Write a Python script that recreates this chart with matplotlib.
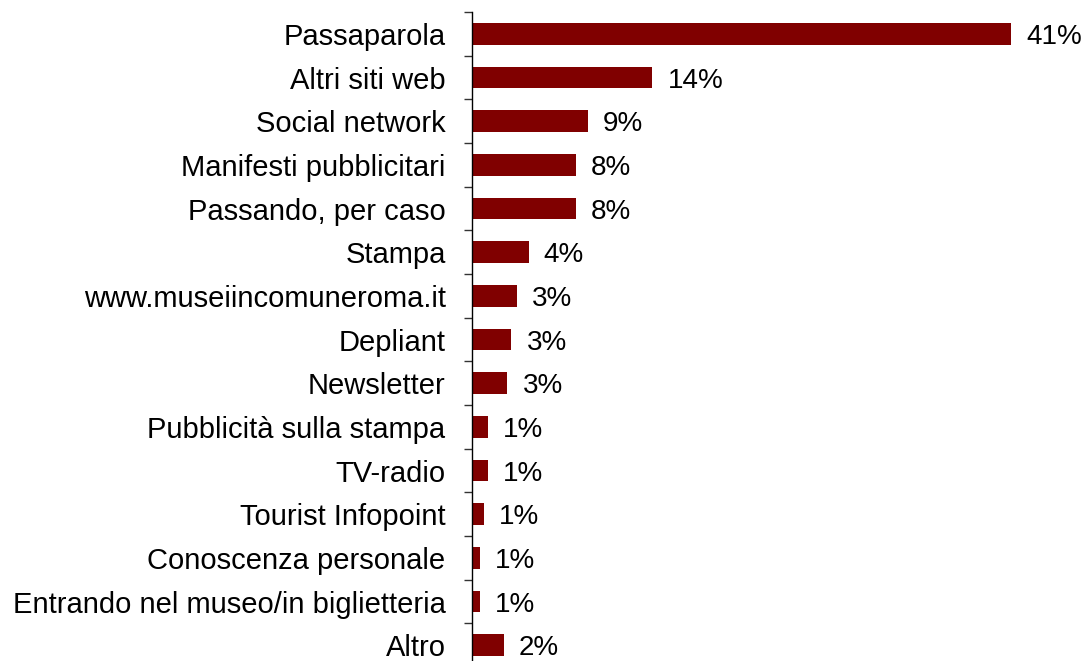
import matplotlib.pyplot as plt
import numpy as np

# Canali di conoscenza (%)
canali = [
    "Passaparola",
    "Altri siti web",
    "Social network",
    "Manifesti pubblicitari",
    "Passando, per caso",
    "Stampa",
    "www.museiincomuneroma.it",
    "Depliant",
    "Newsletter",
    "Pubblicità sulla stampa",
    "TV-radio",
    "Tourist Infopoint",
    "Conoscenza personale",
    "Entrando nel museo/in biglietteria",
    "Altro",
]
valori = [41.0, 13.7, 8.8, 7.9, 7.9, 4.3, 3.4, 3.0, 2.7, 1.2, 1.2, 0.9, 0.6, 0.6, 2.4]

plt.rcParams['font.family'] = ['Liberation Sans', 'DejaVu Sans']

fig = plt.figure(figsize=(10.82, 6.61), dpi=100)
ax = fig.add_axes([0.4362, -0.0091, 0.547, 0.9909])

y = np.arange(len(canali))
ax.barh(y, valori, height=0.5, color='#800000', zorder=2)

for yi, v in zip(y, valori):
    ax.annotate(f"{v:.0f}%", (v, yi), xytext=(11, 0), textcoords='offset points',
                va='center_baseline', ha='left', fontsize=20)

ax.set_ylim(len(canali) - 0.5, -0.5)
ax.set_xlim(0, 45)

ax.set_yticks(y)
ax.set_yticklabels(canali, fontsize=21)
ax.tick_params(axis='y', which='major', length=0, pad=19)
ax.set_yticks(np.arange(len(canali) + 1) - 0.5, minor=True)
ax.tick_params(axis='y', which='minor', length=6, width=1, color='#333333', direction='out')
ax.set_xticks([])

for side in ['top', 'right', 'bottom']:
    ax.spines[side].set_visible(False)
ax.spines['left'].set_linewidth(1)

fig.savefig('out.png', dpi=100)
